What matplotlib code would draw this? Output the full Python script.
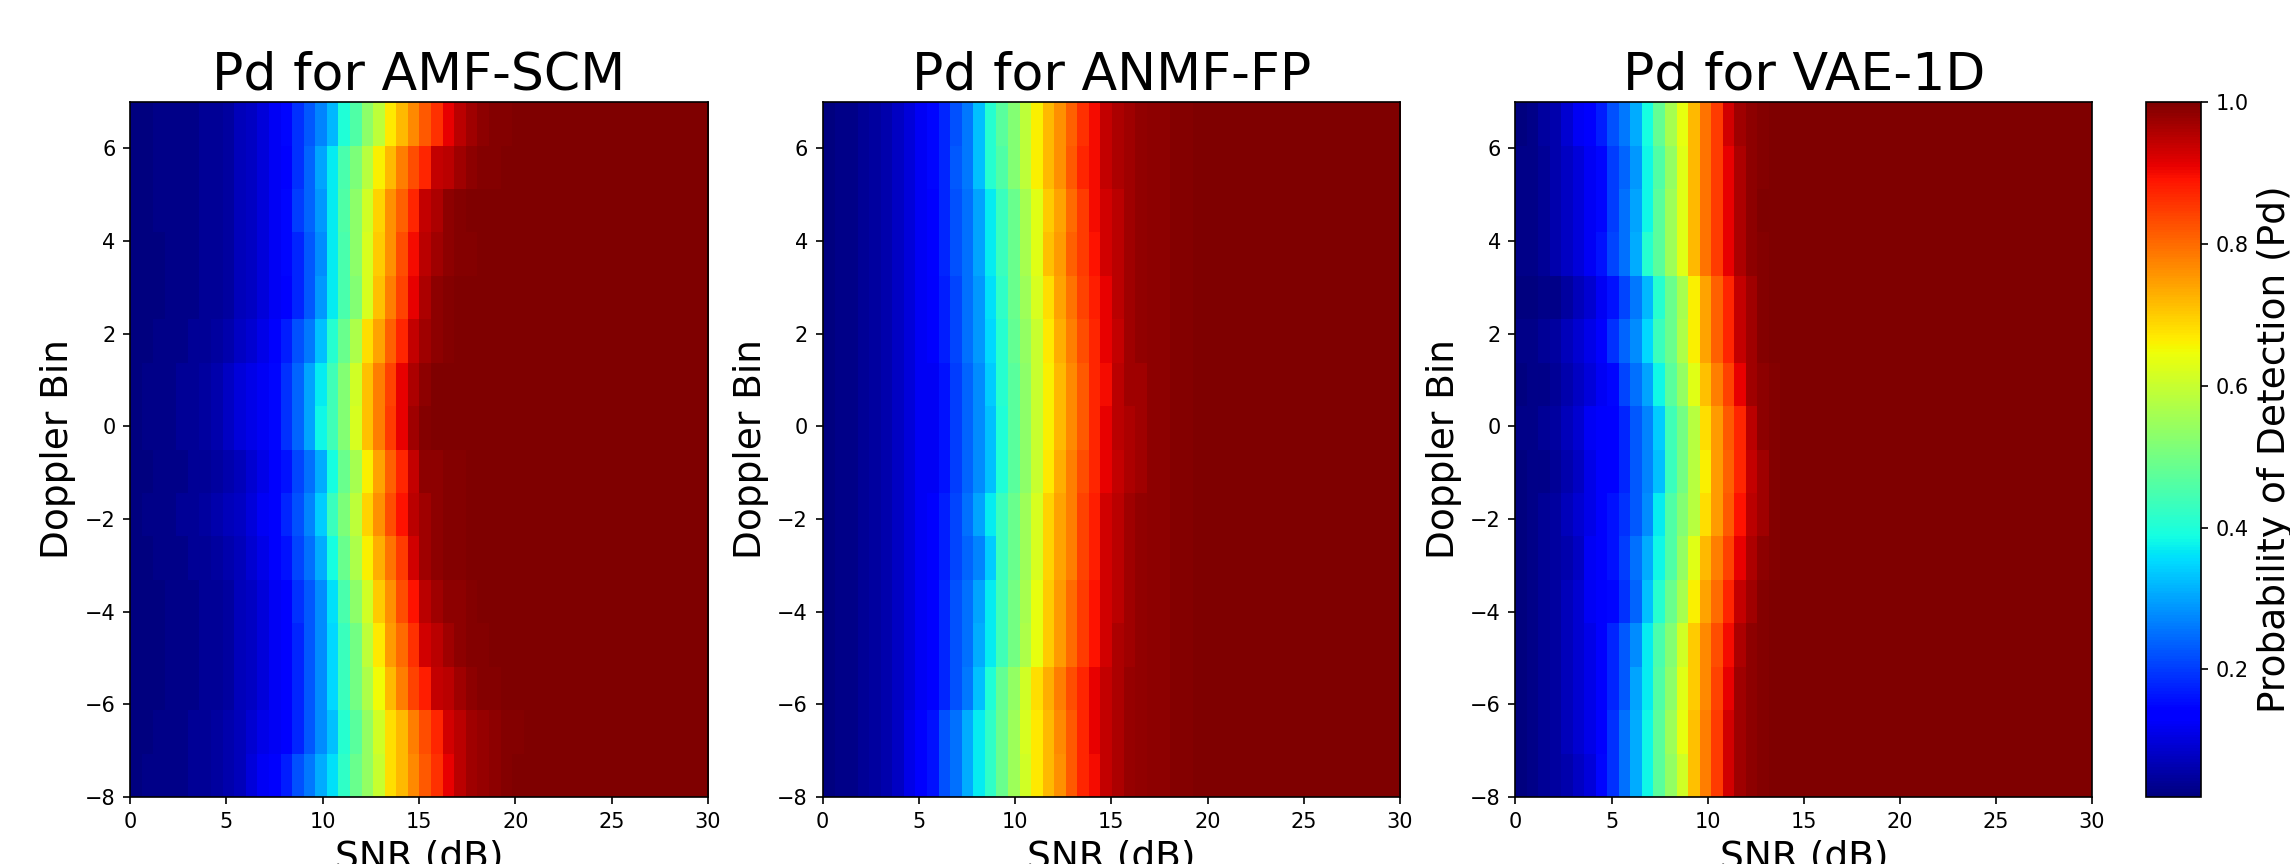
import matplotlib
matplotlib.use("Agg")
import matplotlib.pyplot as plt
import numpy as np

W, H = 2290, 864
N_SNR = 50

# Pd in percent, rows go from bottom (-8) to top (7),
# columns left to right, anything not listed is saturated at 100
amf_scm = [
    [2,3,3,3,3,4,4,5,6,7,10,12,13,17,22,26,31,36,42,49,54,60,68,72,77,82,86,91,95,97,98,98.5,99.4,99.8,99.8],
    [2,2,3,3,3,4,4,5,6,7,9,11,12,14,18,23,28,33,41,47,54,61,68,72,78,83,87,93,95,97,98,98.5,99.4,99.4,99.8],
    [2,2,2,3,3,3,4,4,5,7,8,10,12,14,18,23,28,35,43,50,57,65,72,78,84,88,94,95,97,98.5,99.4,99.4,99.8,99.8],
    [2,2,2,3,3,3,4,4,5,7,8,10,12,14,18,23,28,35,43,50,59,67,75,80,86,93,95,97,98.5,99.4,99.4,99.8,99.8],
    [2,2,2,3,3,3,4,4,5,7,8,10,12,14,19,23,28,36,45,53,61,70,76,83,89,95,97,98.5,98.5,99.4,99.8,99.8],
    [2,2,3,3,3,4,4,5,6,7,9,11,13,16,21,25,31,39,49,57,66,73,79,85,93,97,98.5,99.4,99.4,99.8],
    [2,3,3,3,4,4,5,6,7,8,10,12,13,18,22,27,34,43,51,59,69,76,83,89,95,97,98.5,99.4,99.4,99.8],
    [2,2,3,3,3,4,4,5,6,7,9,11,13,16,21,25,31,39,49,56,66,74,81,87,94,98.5,98.5,99.4,99.4,99.8],
    [2,3,3,3,4,4,5,6,8,10,11,12,15,19,24,30,38,44,52,62,71,78,85,91,97,99.4,99.8],
    [2,3,3,3,4,4,5,6,8,10,11,12,15,19,24,30,37,44,52,61,71,78,84,91,96,98.5,99.8,99.8],
    [2,2,3,3,3,4,4,5,6,8,9,11,13,17,22,26,33,41,49,57,68,74,81,87,94,97,98.5,99.4,99.8],
    [2,2,2,3,3,3,4,4,5,7,8,10,12,14,18,23,29,37,45,52,62,71,78,84,91,96,98.5,99.4,99.8],
    [2,2,2,3,3,3,4,4,5,7,8,10,12,15,18,23,28,37,45,53,62,70,76,83,90,95,97,98.5,99.4,99.4,99.8],
    [2,2,3,3,3,3,4,4,5,7,8,10,12,15,20,24,29,37,46,53,61,69,76,81,87,94,96,98.5,99.4,99.8,99.8],
    [2,2,3,3,3,3,4,4,5,7,8,10,12,14,19,24,30,37,45,51,58,66,72,78,83,87,94,95,97,98.5,99.4,99.4,99.8,99.8],
    [2,2,3,3,3,3,4,4,5,7,8,10,12,15,19,23,27,32,40,46,53,59,67,72,77,82,86,91,95,97,98.5,99.4,99.4,99.8,99.8],
]

anmf_fp = [
    [2,3,3,4,5,6,8,11,13,16,22,25,31,37,42,49,55,61,67,72,76,82,87,90,94,96,98,98.2,98.5,98.7,99.4,99.6,99.8,99.8],
    [2,3,3,4,5,6,8,11,13,16,22,25,31,37,42,49,55,62,67,72,77,82,87,91,94,96,98,98.2,98.5,98.7,99.4,99.6,99.8,99.8],
    [2,3,3,4,5,6,8,10,12,14,18,22,26,33,40,48,54,61,68,73,78,83,87,91,94,96,98,98.2,98.5,98.7,99.4,99.6,99.8,99.8],
    [2,3,3,4,5,6,8,10,12,14,18,22,25,31,37,44,50,57,64,70,75,80,85,89,93,96,97,98.2,98.5,98.7,99.4,99.6,99.8,99.8],
    [2,3,3,4,5,6,8,10,12,14,18,22,25,30,37,44,50,56,64,70,75,80,85,89,93,95,97,98.2,98.5,98.7,99.4,99.6,99.8,99.8],
    [2,3,3,4,5,6,8,10,12,13,17,21,24,27,34,43,49,55,62,69,74,78,84,88,93,95,97,98.2,98.5,98.7,99.4,99.6,99.8,99.8],
    [2,3,3,4,5,6,8,10,12,13,17,21,25,30,37,43,49,55,62,69,74,78,84,88,93,95,97,98.2,98.5,98.7,99.4,99.6,99.8,99.8],
    [2,3,3,4,5,6,8,10,12,12,16,20,24,28,33,40,47,53,60,67,73,78,83,87,91,94,96,97,98.5,98.7,99.4,99.6,99.8,99.8],
    [2,3,3,4,5,6,8,10,12,12,16,20,24,28,33,40,47,53,60,66,72,77,82,87,91,95,96,97,98.5,98.7,99.4,99.6,99.8,99.8],
    [2,3,3,4,5,6,8,10,12,12,16,20,24,28,34,41,47,53,60,66,72,77,82,87,90,95,97,97,98.5,98.7,99.4,99.6,99.8,99.8],
    [2,3,3,4,5,6,8,10,12,13,17,21,25,29,35,41,48,54,60,67,73,78,83,87,91,94,97,98.2,98.5,98.7,99.4,99.6,99.8,99.8],
    [2,3,3,4,5,6,8,10,12,13,17,21,25,29,36,42,49,55,62,68,74,79,84,88,91,95,97,98.2,98.5,98.7,99.4,99.6,99.8,99.8],
    [2,3,3,4,5,6,8,10,12,14,18,22,25,30,37,43,49,56,63,71,75,81,85,89,93,95,97,98.2,98.5,98.7,99.4,99.6,99.8,99.8],
    [2,3,3,4,5,6,8,10,12,14,18,22,25,30,37,43,49,56,63,70,74,80,85,90,93,95,97,98.2,98.5,98.7,99.4,99.6,99.8,99.8],
    [2,3,3,4,5,6,8,10,12,15,18,23,26,33,41,46,52,59,66,72,76,82,87,90,94,96,97,98.2,98.5,98.7,99.4,99.6,99.8,99.8],
    [2,3,3,4,5,6,8,10,12,15,18,22,26,33,41,47,52,59,66,72,76,81,86,90,94,96,97,98.2,98.5,98.7,99.4,99.6,99.8,99.8],
]

vae_1d = [
    [2,3,4,5,6,8,10,15,19,25,31,38,47,54,61,71,78,85,93,97,98.5,99.4,99.8],
    [2,3,4,5,7,9,11,14,19,25,31,38,47,55,64,71,78,85,93,97,98.5,99.4,99.8],
    [2,3,4,5,7,9,11,14,18,23,30,37,46,53,63,70,77,84,91,97,98.5,99.4,99.8],
    [2,3,4,5,7,9,11,14,18,23,28,37,45,52,61,70,77,83,90,96,98.5,99.4,99.8],
    [2,3,4,5,7,9,12,13,15,19,24,33,41,49,56,66,74,80,87,94,97,99.4,99.8],
    [2,3,4,5,6,8,12,13,16,20,25,31,38,46,54,63,72,78,84,91,96,98.5,99.4,99.8],
    [2,3,4,5,7,9,11,13,16,19,23,28,37,46,52,58,68,75,82,89,95,97,99.4],
    [2,3,3,4,6,8,11,13,14,18,23,27,33,43,50,58,66,75,81,87,94,97,99.4,99.8],
    [3,3,4,5,7,9,12,13,14,18,23,27,34,44,50,58,68,75,82,87,95,98.5,99.4,99.8],
    [2,3,3,4,6,8,10,12,15,21,25,30,38,47,54,63,71,78,84,91,97,98.5,99.4],
    [3,3,4,5,7,9,11,13,19,24,28,35,43,49,57,66,74,81,87,94,97,99.4],
    [2,2,3,3,5,7,9,12,16,21,26,32,41,49,56,66,74,81,87,94,97,99.4],
    [3,3,4,6,8,10,12,16,21,25,31,41,47,55,63,72,79,85,91,96,98.5,99.4],
    [3,3,4,6,8,10,12,15,20,25,30,38,47,55,63,72,79,85,91,96,98.5,99.8],
    [3,3,4,6,8,10,12,15,20,24,29,38,46,54,63,72,79,85,91,96,98.5,99.4,99.8],
    [2,3,5,6,9,12,13,17,22,26,31,39,48,56,64,72,79,85,93,97,98.5,99.4,99.8],
]

titles = ["Pd for AMF-SCM", "Pd for ANMF-FP", "Pd for VAE-1D"]
panels = [amf_scm, anmf_fp, vae_1d]
# pixel edges of the axes: left, right
ax_edges = [(130, 708), (822.5, 1400), (1515.5, 2092)]
top, bottom = 102, 797


def to_grid(rows):
    grid = np.full((len(rows), N_SNR), 100.0)
    for i, row in enumerate(rows):
        grid[i, :len(row)] = row
    return grid / 100


fig = plt.figure(figsize=(W / 150, H / 150), dpi=150)

for rows, title, (x0, x1) in zip(panels, titles, ax_edges):
    ax = fig.add_axes([x0 / W, 1 - bottom / H, (x1 - x0) / W, (bottom - top) / H])
    im = ax.imshow(to_grid(rows), origin="lower", aspect="auto", cmap="jet",
                   extent=[0, 30, -8, 7], vmin=0.02, vmax=1.0,
                   interpolation="nearest")
    ax.set_title(title, fontsize=25, pad=6)
    ax.set_xlabel("SNR (dB)", fontsize=18)
    ax.set_ylabel("Doppler Bin", fontsize=18)

cax = fig.add_axes([2146 / W, 1 - bottom / H, 55 / W, (bottom - top) / H])
cb = fig.colorbar(im, cax=cax)
cb.set_label("Probability of Detection (Pd)", fontsize=18)

fig.savefig("out.png", dpi=150)
